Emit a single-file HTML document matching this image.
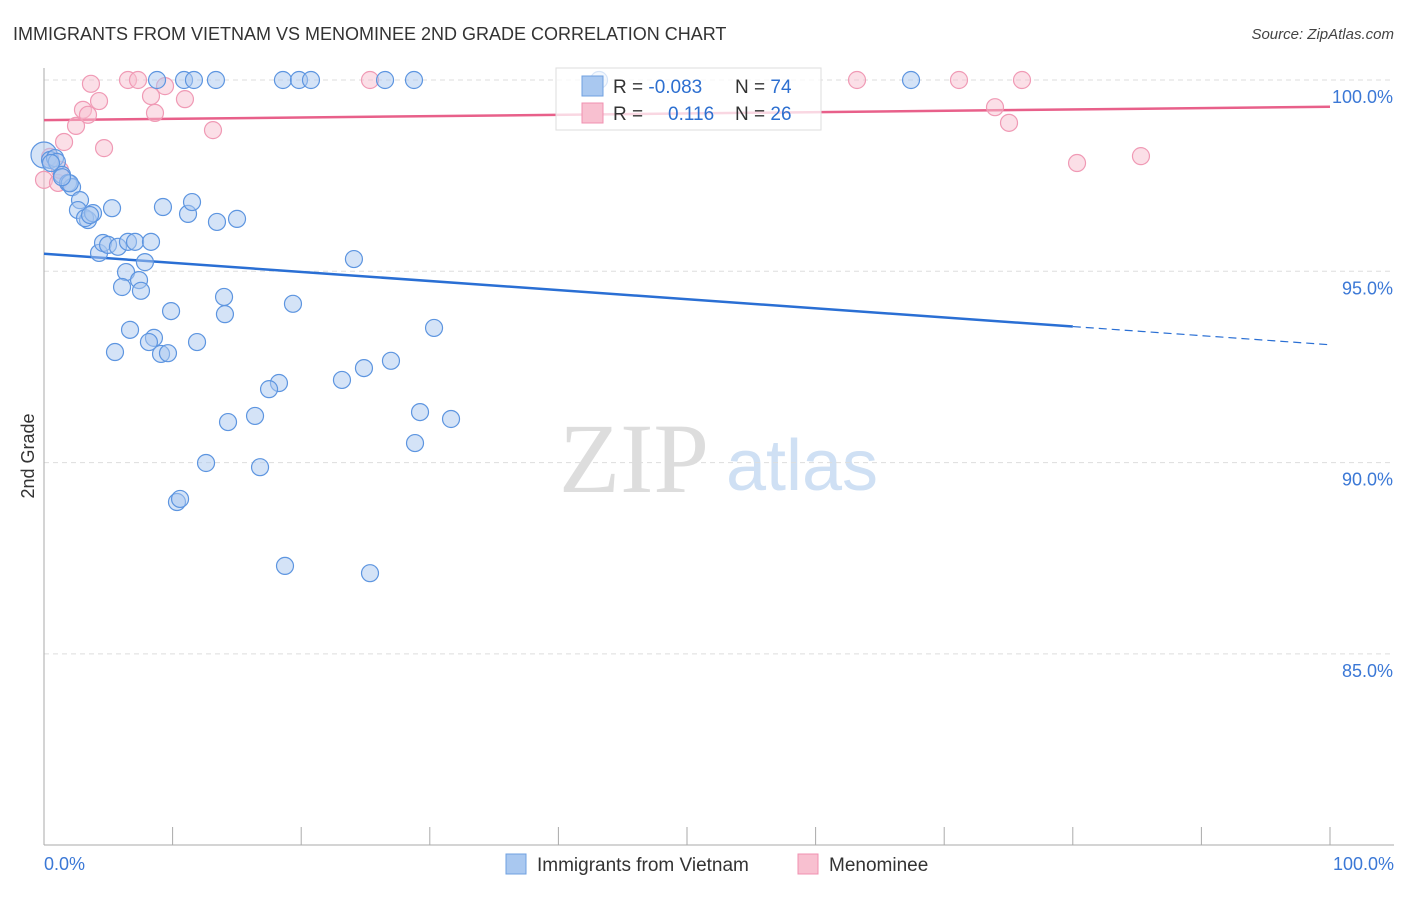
<!DOCTYPE html>
<html><head><meta charset="utf-8"><style>
body{margin:0;background:#fff;font-family:"Liberation Sans",sans-serif}
svg text{font-family:"Liberation Sans",sans-serif}
</style></head><body>
<svg id="c" width="1406" height="892" xmlns="http://www.w3.org/2000/svg">
<text x="13" y="40" font-size="18" fill="#333">IMMIGRANTS FROM VIETNAM VS MENOMINEE 2ND GRADE CORRELATION CHART</text>
<text x="1394" y="39" font-size="15" fill="#444" font-style="italic" text-anchor="end">Source: ZipAtlas.com</text>
<text x="34" y="456" font-size="18" fill="#333" text-anchor="middle" transform="rotate(-90 34 456)">2nd Grade</text>
<g>
<text x="634" y="492" font-size="100" fill="#ddd" style="font-family:'Liberation Serif',serif" text-anchor="middle">ZIP</text>
<text x="802" y="490" font-size="72" fill="#cfe0f4" text-anchor="middle">atlas</text>
</g>
<g id="grid"></g><g id="axes"></g><g id="lines"></g><g id="pts"></g>
<g>
<rect x="556" y="68" width="265" height="62" fill="#fff" fill-opacity="0.75" stroke="#ddd"/>
<rect x="582" y="76" width="21" height="20" fill="#a9c8f0" stroke="#6fa0e0"/>
<rect x="582" y="103" width="21" height="20" fill="#f8c0d0" stroke="#f090b0"/>
<text x="613" y="93" font-size="19" fill="#333">R = <tspan fill="#2d6fd0">-0.083</tspan></text>
<text x="735" y="93" font-size="19" fill="#333">N = <tspan fill="#2d6fd0">74</tspan></text>
<text x="613" y="120" font-size="19" fill="#333">R = <tspan x="668" fill="#2d6fd0">0.116</tspan></text>
<text x="735" y="120" font-size="19" fill="#333">N = <tspan fill="#2d6fd0">26</tspan></text>
</g>
<g>
<rect x="506" y="854" width="20" height="20" fill="#a9c8f0" stroke="#6fa0e0"/>
<text x="537" y="871" font-size="19" fill="#333">Immigrants from Vietnam</text>
<rect x="798" y="854" width="20" height="20" fill="#f8c0d0" stroke="#f090b0"/>
<text x="829" y="871" font-size="19" fill="#333">Menominee</text>
</g>
</svg>
<script>
const yTicks=[100,95,90,85];
const yTickLabels=["100.0%","95.0%","90.0%","85.0%"];
const xTickLabels=["0.0%","100.0%"];
const blueX=[0,0.47,0.86,1.0,1.4,1.87,2.18,2.0,2.8,2.64,3.42,3.19,3.81,5.29,4.28,4.59,4.98,5.75,6.53,7.08,8.32,6.38,7.85,6.07,7.39,7.54,9.25,11.2,11.51,13.45,15.01,9.88,14.0,14.07,6.69,8.55,8.16,9.1,9.64,5.52,11.9,19.36,24.1,30.33,26.98,24.88,23.17,18.27,17.5,14.31,16.41,29.24,31.65,28.85,12.6,16.8,10.34,10.58,18.74,25.35,8.79,10.89,11.66,13.37,18.58,19.83,20.76,26.52,28.77,43.16,67.42,0.54,1.4,3.58];
const blueY=[98.04,97.91,97.96,97.86,97.52,97.31,97.2,97.3,96.86,96.6,96.34,96.39,96.52,96.65,95.48,95.74,95.69,95.64,95.77,95.77,95.77,94.98,95.24,94.59,94.77,94.49,96.68,96.5,96.81,96.29,96.37,93.96,94.33,93.88,93.47,93.26,93.15,92.84,92.86,92.89,93.15,94.15,95.32,93.52,92.66,92.47,92.16,92.08,91.92,91.06,91.22,91.32,91.14,90.51,89.99,89.88,88.97,89.05,87.3,87.11,100,100,100,100,100,100,100,100,100,100,100,97.83,97.46,96.47];
const pinkX=[0,1.09,1.56,2.49,3.03,3.42,4.28,4.67,3.65,6.53,7.31,8.32,8.63,9.41,10.96,13.14,25.35,63.22,71.15,76.05,73.95,75.04,80.33,85.3,0.47,1.24];
const pinkY=[97.39,97.31,98.38,98.8,99.22,99.09,99.45,98.22,99.9,100,100,99.58,99.14,99.84,99.5,98.69,100,100,100,100,99.29,98.88,97.83,98.01,97.99,97.65];
const blueTrend=[95.46,-0.0238];
const pinkTrend=[98.95,0.0035];
const NS="http://www.w3.org/2000/svg";
const X=v=>44+v*12.86, Y=v=>80+(100-v)*38.26;
function mk(t,a,p){const e=document.createElementNS(NS,t);for(const k in a)e.setAttribute(k,a[k]);p.appendChild(e);return e;}
const grid=document.getElementById('grid'),axes=document.getElementById('axes'),lines=document.getElementById('lines'),pts=document.getElementById('pts');
yTicks.forEach((t,i)=>{
 const l=mk('line',{x1:44,x2:1394,y1:Y(t),y2:Y(t),stroke:'#ddd','stroke-dasharray':'5,4'},grid);
 
 
 const tx=mk('text',{x:1393,y:Y(t)+23,'font-size':18,fill:'#3b78d6','text-anchor':'end'},axes);
 tx.textContent=yTickLabels[i];
 
 
});
mk('line',{x1:44,x2:44,y1:68,y2:845,stroke:'#aaa'},axes);
mk('line',{x1:44,x2:1394,y1:845,y2:845,stroke:'#aaa'},axes);
for(let i=0;i<=10;i++){mk('line',{x1:X(i*10),x2:X(i*10),y1:827,y2:845,stroke:'#aaa'},axes);}
[[0,'start',44],[100,'end',1394]].forEach((d,i)=>{
 const tx=mk('text',{x:d[2],y:870,'font-size':18,fill:'#3b78d6','text-anchor':d[1]},axes);
 tx.textContent=xTickLabels[i];
 
 
});
const bl=mk('line',{x1:X(0),y1:Y(blueTrend[0]),x2:X(80),y2:Y(blueTrend[0]+80*blueTrend[1]),stroke:'#2a6fd4','stroke-width':2.5},lines);


const bd=mk('line',{x1:X(80),y1:Y(blueTrend[0]+80*blueTrend[1]),x2:X(100),y2:Y(blueTrend[0]+100*blueTrend[1]),stroke:'#2a6fd4','stroke-width':1.2,'stroke-dasharray':'8,5'},lines);


const pl=mk('line',{x1:X(0),y1:Y(pinkTrend[0]),x2:X(100),y2:Y(pinkTrend[0]+100*pinkTrend[1]),stroke:'#e8608a','stroke-width':2.5},lines);


pinkX.forEach((x,i)=>{
 const c=mk('circle',{cx:X(x),cy:Y(pinkY[i]),r:8.5,fill:'#f8c0d0','fill-opacity':0.5,stroke:'#f09ab5','stroke-width':1.2},pts);
 
 
});
blueX.forEach((x,i)=>{
 const c=mk('circle',{cx:X(x),cy:Y(blueY[i]),r:i==0?13:8.5,fill:'#a9c8f0','fill-opacity':0.5,stroke:'#5d95e0','stroke-width':1.2},pts);
 
 
});
</script>
</body></html>
